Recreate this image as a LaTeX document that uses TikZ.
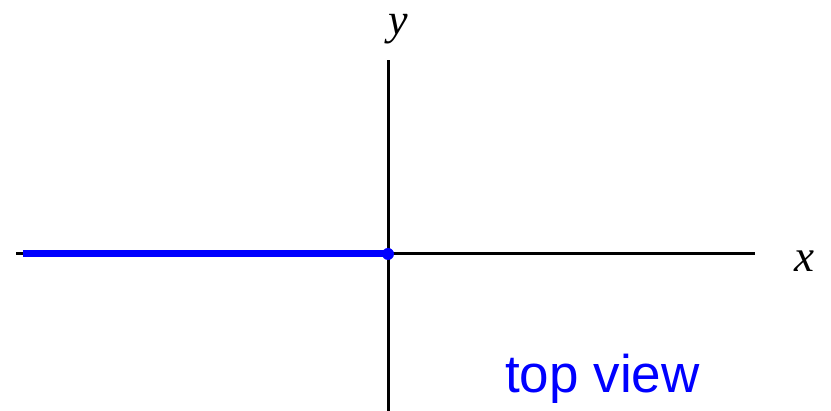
\documentclass[tikz,border=0pt]{standalone}
\usepackage{fontspec}
\setmainfont{Liberation Serif}
\newfontfamily\labelfont{Liberation Sans}
\begin{document}
\begin{tikzpicture}[x=1pt, y=1pt]
  \useasboundingbox (0,0) rectangle (831,411);
  \tikzset{axis/.style={black, line width=3pt},
           ray/.style={blue, line width=7pt}}

  \coordinate (O) at (388,157);
  \coordinate (xl) at (16,157);
  \coordinate (xr) at (755,157);
  \coordinate (yt) at (388,351);
  \coordinate (yb) at (388,0);
  \coordinate (rl) at (23,157);

  \draw[axis] (xl) -- (xr);
  \draw[axis] (yb) -- (yt);
  \draw[ray] (rl) -- (O);
  \fill[blue] (O) circle (6pt);

  \node[anchor=base, font=\fontsize{45}{45}\selectfont\itshape] (xlab) at (804,139) {x};
  \node[anchor=base, font=\fontsize{44}{44}\selectfont\itshape] (ylab) at (398,376) {y};
  \node[anchor=base west, inner sep=0pt, blue, font=\labelfont\fontsize{53}{53}\selectfont] (view) at (505,18) {top view};
\end{tikzpicture}
\end{document}
